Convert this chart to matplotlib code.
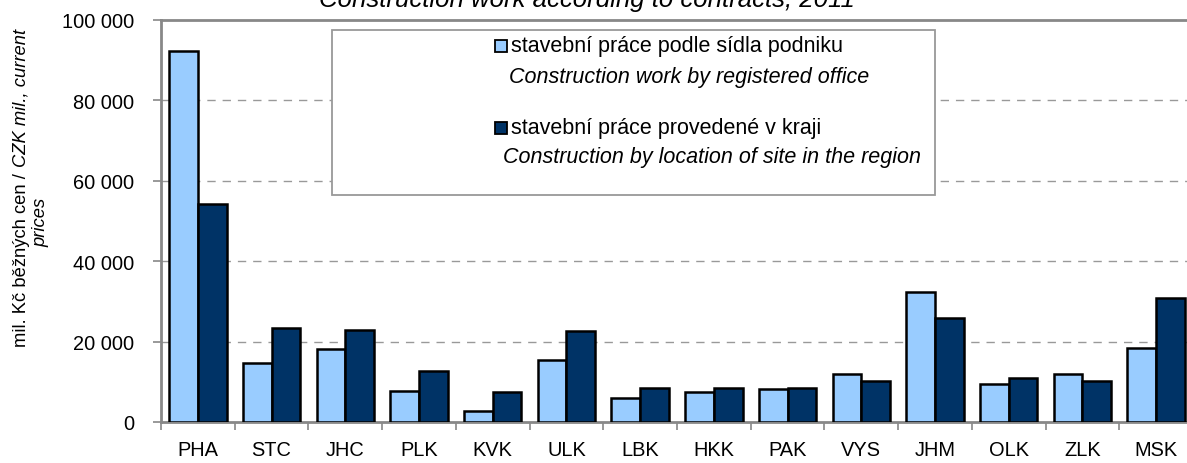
import matplotlib
matplotlib.use("Agg")
import matplotlib.pyplot as plt
from matplotlib.patches import Rectangle
from matplotlib.ticker import FuncFormatter
import numpy as np

plt.rcParams['font.family'] = ['Liberation Sans', 'DejaVu Sans']

regions = ["PHA", "STC", "JHC", "PLK", "KVK", "ULK", "LBK", "HKK", "PAK", "VYS",
           "JHM", "OLK", "ZLK", "MSK"]
by_office = [92300, 14800, 18200, 7600, 2700, 15400, 6000, 7500, 8200, 11900,
             32400, 9400, 11900, 18400]
by_site = [54200, 23300, 22900, 12700, 7500, 22600, 8400, 8400, 8400, 10100,
           25900, 10900, 10100, 30800]

label_office_cz = "stavební práce podle sídla podniku"
label_office_en = "Construction work by registered office"
label_site_cz = "stavební práce provedené v kraji"
label_site_en = "Construction by location of site in the region"
title = "Construction work according to contracts, 2011"

c_light = "#99CCFF"
c_dark = "#003366"
grey = "#888888"

W, H = 1187, 464
fig = plt.figure(figsize=(W / 100, H / 100), dpi=100)

def fx(px):
    return px / W

def fy(py):
    return 1 - py / H

ax = fig.add_axes([fx(161), fy(423), fx(1193) - fx(161), fy(21) - fy(423)])

x = np.arange(len(regions))
bw = 0.39
ax.bar(x - bw / 2, by_office, bw, color=c_light, edgecolor="black", linewidth=1.8, zorder=3)
ax.bar(x + bw / 2, by_site, bw, color=c_dark, edgecolor="black", linewidth=1.8, zorder=3)

ax.set_xlim(-0.5, len(regions) - 0.5)
ax.set_ylim(0, 100000)
ax.set_yticks(np.arange(0, 100001, 20000))
ax.yaxis.set_major_formatter(FuncFormatter(lambda v, p: f"{int(v):,}".replace(",", " ")))
ax.set_xticks(x)
ax.set_xticklabels(regions)
ax.set_xticks(np.arange(-0.5, len(regions), 1.0), minor=True)
ax.tick_params(axis='x', which='major', length=0, pad=13, labelsize=14.4)
ax.tick_params(axis='x', which='minor', length=6, width=1.2, color=grey, direction='out')
ax.tick_params(axis='y', length=6, width=1.2, color=grey, pad=13, labelsize=14.4)

for v in np.arange(20000, 100000, 20000):
    ax.axhline(v, color="#999999", linestyle=(0, (6, 5)), linewidth=1.0, zorder=1)

for s in ['left', 'bottom', 'top', 'right']:
    ax.spines[s].set_color(grey)
    ax.spines[s].set_linewidth(2.0)

# legend box
lx0, lx1, ly0, ly1 = 332, 935, 31, 196
fig.patches.append(Rectangle((fx(lx0), fy(ly1)), fx(lx1) - fx(lx0), fy(ly0) - fy(ly1),
                             transform=fig.transFigure, facecolor="white",
                             edgecolor="#999999", linewidth=1.3, zorder=5))
sq = 12
fig.patches.append(Rectangle((fx(495), fy(47 + sq / 2)), sq / W, sq / H, transform=fig.transFigure,
                             facecolor=c_light, edgecolor="black", linewidth=1.3, zorder=6))
fig.patches.append(Rectangle((fx(495), fy(129 + sq / 2)), sq / W, sq / H, transform=fig.transFigure,
                             facecolor=c_dark, edgecolor="black", linewidth=1.3, zorder=6))
fs_leg = 15.5
fig.text(fx(511), fy(47), label_office_cz, fontsize=fs_leg, va='center', ha='left', zorder=7)
fig.text(fx(509), fy(77), label_office_en, fontsize=fs_leg, style='italic', va='center', ha='left', zorder=7)
fig.text(fx(511), fy(129), label_site_cz, fontsize=fs_leg, va='center', ha='left', zorder=7)
fig.text(fx(503), fy(158), label_site_en, fontsize=fs_leg, style='italic', va='center', ha='left', zorder=7)

# title (partly cut at top, as in the reference)
fig.text(fx(587), fy(7), title, fontsize=18.5, style='italic',
         ha='center', va='baseline')

# y label, mixed styles
fs_y = 13.2
t1 = fig.text(fx(26), fy(347), "mil. Kč běžných cen / ", fontsize=fs_y, rotation=90,
              rotation_mode='anchor', ha='left', va='baseline')
fig.canvas.draw()
bb = t1.get_window_extent(renderer=fig.canvas.get_renderer())
fig.text(fx(26), (bb.y1 + 1) / H, "CZK mil., current", fontsize=fs_y, rotation=90,
         rotation_mode='anchor', ha='left', va='baseline', style='italic')
fig.text(fx(45), fy(222), "prices", fontsize=fs_y, rotation=90,
         rotation_mode='anchor', ha='center', va='baseline', style='italic')

fig.savefig("out.png", dpi=100)
